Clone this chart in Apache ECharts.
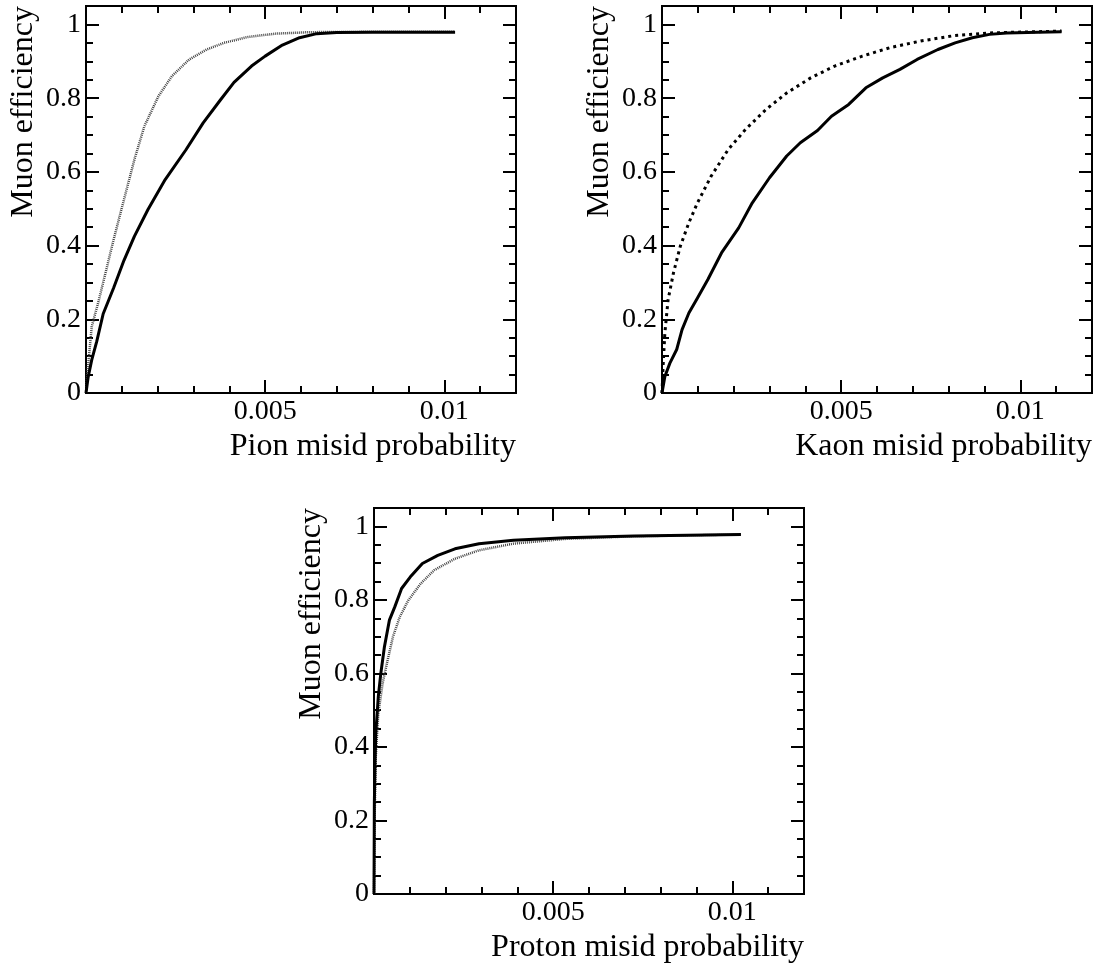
<!DOCTYPE html>
<html>
<head>
<meta charset="utf-8">
<script src="https://cdn.jsdelivr.net/npm/echarts@6/dist/echarts.min.js"></script>
<style>
  html, body { margin: 0; padding: 0; background: #fff; }
  #main { width: 1099px; height: 967px; }
</style>
</head>
<body>
<div id="main"></div>
<script>
// ==============================================================
// Muon efficiency vs misid probability (three panels)
// ==============================================================
var panelNames = ['Pion misid probability', 'Kaon misid probability', 'Proton misid probability'];
var yName = 'Muon efficiency';

// [misid probability, muon efficiency]
var pionSolid = [[0,0],[0.00006,0.043],[0.00016,0.09],[0.0003,0.14],[0.00048,0.215],[0.00077,0.285],[0.00106,0.36],[0.00135,0.425],
  [0.00173,0.498],[0.00221,0.579],[0.00279,0.66],[0.00327,0.733],[0.00375,0.795],[0.00413,0.843],[0.00462,0.887],
  [0.005,0.914],[0.00548,0.944],[0.00596,0.964],[0.00644,0.975],[0.007,0.978],[0.008,0.979],[0.009,0.979],[0.0103,0.979]];
var pionDotted = [[0,0],[0.00005,0.065],[0.00016,0.18],[0.00034,0.245],[0.00048,0.3],[0.00077,0.416],[0.00106,0.525],
  [0.00135,0.633],[0.00163,0.724],[0.00202,0.805],[0.0024,0.86],[0.00288,0.905],[0.00337,0.932],[0.00385,0.95],
  [0.00452,0.966],[0.00529,0.975],[0.00625,0.979],[0.008,0.98],[0.0103,0.98]];

var kaonSolid = [[0,0],[0.00008,0.045],[0.00022,0.081],[0.00041,0.118],[0.00056,0.172],[0.00075,0.217],[0.00099,0.258],
  [0.00128,0.308],[0.00166,0.38],[0.00214,0.448],[0.00252,0.516],[0.003,0.584],[0.00348,0.643],[0.00386,0.679],
  [0.00434,0.712],[0.00473,0.751],[0.00521,0.783],[0.00569,0.828],[0.00616,0.855],[0.00664,0.878],[0.00712,0.905],
  [0.0077,0.932],[0.00818,0.95],[0.00866,0.964],[0.00914,0.973],[0.00962,0.977],[0.0105,0.979],[0.01115,0.98]];
var kaonDotted = [[0,0],[0.00003,0.072],[0.00008,0.163],[0.00017,0.253],[0.00032,0.326],[0.00051,0.398],[0.00075,0.462],
  [0.00099,0.516],[0.00137,0.588],[0.00185,0.661],[0.00233,0.715],[0.00291,0.77],[0.00348,0.814],[0.00415,0.855],
  [0.00482,0.887],[0.00559,0.914],[0.00636,0.937],[0.00722,0.955],[0.00818,0.97],[0.00914,0.977],[0.01115,0.982]];

var protonSolid = [[0,0],[0.00001,0.25],[0.00003,0.36],[0.00005,0.437],[0.00012,0.537],[0.00019,0.6],[0.00029,0.672],
  [0.00043,0.745],[0.00058,0.781],[0.00077,0.831],[0.00101,0.862],[0.00135,0.899],[0.00178,0.921],[0.00226,0.939],
  [0.00293,0.953],[0.00389,0.962],[0.00534,0.969],[0.00726,0.974],[0.01024,0.978]];
var protonDotted = [[0,0],[0.00002,0.22],[0.00005,0.374],[0.00012,0.491],[0.00024,0.573],[0.00038,0.636],[0.00053,0.7],
  [0.00072,0.754],[0.00096,0.799],[0.0013,0.844],[0.00168,0.881],[0.00226,0.912],[0.00293,0.935],[0.00389,0.953],
  [0.00534,0.966],[0.00726,0.973],[0.01024,0.978]];

var xMin = 0, xMax = 0.012, xMajor = 0.005, xMinor = 0.001;
var yMin = 0, yMax = 1.05, yMajor = 0.2, yMinor = 0.05;

var font = '"Liberation Serif", "Times New Roman", serif';
var grids = [
  { left: 86, top: 6, width: 430, height: 387 },
  { left: 662, top: 6, width: 430, height: 387 },
  { left: 374, top: 508, width: 430, height: 386 }
];

var xAxes = [], yAxes = [];

function axisBase(grid, pos, min, max, interval, tickLen, withLabel) {
  return {
    gridIndex: grid, type: 'value', position: pos,
    min: min, max: max, interval: interval,
    axisLine: { show: true, onZero: false, lineStyle: { color: '#000', width: 2 } },
    axisTick: { show: true, inside: true, length: tickLen, lineStyle: { color: '#000', width: 2 } },
    axisLabel: { show: withLabel, showMinLabel: true, showMaxLabel: false,
                 color: '#000', fontFamily: font, fontSize: 28, margin: 5 },
    splitLine: { show: false }
  };
}

for (var g = 0; g < 3; g++) {
  // x: bottom major (labels + name), bottom minor, top major, top minor
  var xb = axisBase(g, 'bottom', xMin, xMax, xMajor, 13, true);
  xb.axisLabel.showMinLabel = false;
  xb.name = panelNames[g];
  xb.nameLocation = 'end';
  xb.nameGap = 0;
  xb.nameTextStyle = { color: '#000', fontFamily: font, fontSize: 32,
                       align: 'right', verticalAlign: 'top', padding: [38, 0, 0, 0] };
  xAxes.push(xb);
  xAxes.push(axisBase(g, 'bottom', xMin, xMax, xMinor, 7, false));
  xAxes.push(axisBase(g, 'top', xMin, xMax, xMajor, 13, false));
  xAxes.push(axisBase(g, 'top', xMin, xMax, xMinor, 7, false));

  // y: left major (labels + name), left minor, right major, right minor
  var yl = axisBase(g, 'left', yMin, yMax, yMajor, 13, true);
  yl.name = yName;
  yl.nameLocation = 'end';
  yl.nameGap = 0;
  yl.nameRotate = 90;
  yl.nameTextStyle = { color: '#000', fontFamily: font, fontSize: 32,
                       align: 'right', verticalAlign: 'bottom', padding: [0, 0, 46, 0] };
  yAxes.push(yl);
  yAxes.push(axisBase(g, 'left', yMin, yMax, yMinor, 7, false));
  yAxes.push(axisBase(g, 'right', yMin, yMax, yMajor, 13, false));
  yAxes.push(axisBase(g, 'right', yMin, yMax, yMinor, 7, false));
}

function curve(grid, data, dotted) {
  return {
    type: 'line', xAxisIndex: grid * 4, yAxisIndex: grid * 4,
    data: data, showSymbol: false, smooth: false,
    lineStyle: dotted
      ? { color: dotted.color, width: dotted.width, type: dotted.dash, join: 'round' }
      : { color: '#000', width: 3, join: 'round' },
    z: dotted ? 3 : 4
  };
}

var fineDots = { color: '#444', width: 2.5, dash: [1, 1] };
var coarseDots = { color: '#000', width: 3, dash: [3, 4] };

var myChart = echarts.init(document.getElementById('main'));
option = {
  animation: false,
  backgroundColor: '#fff',
  grid: grids,
  xAxis: xAxes,
  yAxis: yAxes,
  series: [
    curve(0, pionDotted, fineDots),
    curve(0, pionSolid),
    curve(1, kaonDotted, coarseDots),
    curve(1, kaonSolid),
    curve(2, protonDotted, fineDots),
    curve(2, protonSolid)
  ]
};
myChart.setOption(option, true);
</script>
</body>
</html>
